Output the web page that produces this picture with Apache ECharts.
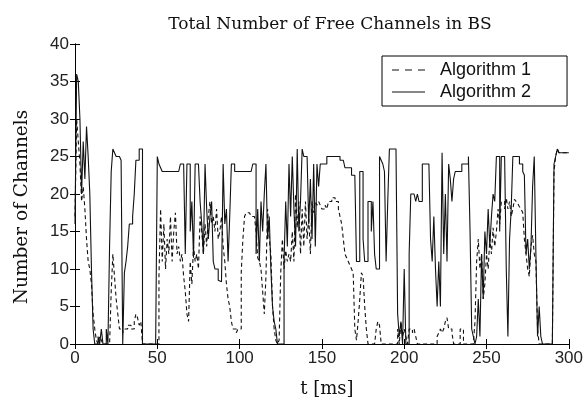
<!DOCTYPE html>
<html><head><meta charset="utf-8">
<script src="https://cdn.jsdelivr.net/npm/echarts@6/dist/echarts.min.js"></script>
<style>html,body{margin:0;padding:0;background:#fff}#c{width:586px;height:403px}</style>
</head><body><div id="c"></div>
<script>
// time step of samples (ms)
const dt = 1;
const xTicks = [0, 50, 100, 150, 200, 250, 300];
const yTicks = [0, 5, 10, 15, 20, 25, 30, 35, 40];
const seriesNames = ['Algorithm 1', 'Algorithm 2'];

// Algorithm 1 (dashed), t = 0..300 ms
const alg1 = [
 17,30,27,24,19,21,18,14,11,10,
 8,4,2,0.5,0,1,0.5,0,0,0,
 0,0,7,12,9,6,4,2,2,1.5,
 2,2,2.5,2.5,2,2,3,4,3.5,2.5,
 3,0,0,0,0,0,0,0,0,0,
 0,9,18,11,16,10,14,12,17,11,
 15,17.5,12,13,11,12,9,7,4,3,
 11,8,13,11,12,10,17,15,12,16,
 13,17,19,16,17,15,18,14,15,17,
 13,11,8,6,5,3,2,2,1.5,2,
 2,9.6,14,17,17.5,17.5,17.5,17,17,17,
 15,11.5,11,10,7,4,9,18,14,12,
 5,2,0.5,0,0.5,9.6,14,10,12.5,11,
 12,11,15,11,20,15.5,19,12,18,13,
 19,14,17,12,19,17.5,19,18.5,19,18.5,
 18,18,18.5,18,19,19,19.5,19.5,19,19,
 18,17,16,14,12,11.5,11,10.5,10,9.5,
 2,0.5,3,6,9.5,9,5,2,0,0,
 0,0,0,2,3,2.5,0,0,0,0,
 0,0,0,0,0,0,2,0,3,1,
 2,1,0,2,2,1.5,2,1,0,0,
 0,0,0,0,0,0,0,0,0,0,
 1,1.5,2,1.5,2,3,3.5,2,2,1.5,
 0,0,0,0,2,2,0,0,0,0,
 0,0,0,3,11,14,10,12,6,8,
 12,10,14,12,15.5,13,15,18,16,19,
 19,18,19.5,18,19,17,18,19.3,19,18.7,
 18.3,18,17.5,14,12,10,9,13,14.5,12,
 11,2,0,0,0,0,0,0,0,0,
 0,23,25,26,25.5,25.5,25.5,25.5,25.5,25.5,25.5
];

// Algorithm 2 (solid), t = 0..300 ms
const alg2 = [
 16,36,35,30,20,27,22,29,25,20,
 10,2,0,0,1,0,2,0,0,2,
 0,13,23,26,25.5,25,25,25,24.5,0,
 9.5,11,13,16,16,17,20,24.5,24.5,26,
 26,0,0,0,0,0,0,0,0,0,
 25,24,23.5,23,23,23,23,23,23,23,
 23,23,23,23,24,24,24,12,24,24,
 15,19,11.5,24,24,24,19,16,12,24,
 18,14,17,19,11,10,10,8.5,8.3,8.3,
 24,16,18,11,17,24,24,23,23,23,
 23,23,23,23,23,23,23,23,24,24,
 12,18,11,19,15,20,24,14,17,10,
 5,3,2,0,0,0,0,11,19,13,
 24,17,25,18,13,26,15,19,26,25,
 25,25,16,22,14,24,13,24,21,24,
 24,24,24,25,25,25,25,25,25,25,
 25,24.5,24.5,24.5,23.5,23.5,23.5,23.5,22.5,22.5,
 22.5,11,11,23,23,14,11,11,19,19,
 15,19,12,10,10,25,24.5,24,23,11,
 19,26,26,26,26,26,4,1,3,0,
 10,0,0,12,20,20,20,19,20,19,
 19,24,24,24,24,24,14,11,17,10,
 5,11,5,25.5,12,20,11,24,22,19,
 22,23,23,23,23,24,24,24,24,25,
 15,2,1,0,1,6,1,12,6,15,
 12,18,13,17,20,19,25,25,15,25,
 25,25,10,1,14,18,25,25,25,25,
 24,24,23,22.5,12,14,10,13,21,25,
 12,1,5,1,0,0,0,0,0,0,
 0,24,25,26,25.5,25.5,25.5,25.5,25.5,25.5,25.5
];

const toPairs = arr => arr.map((v, i) => [i * dt, v]);
const sansFont = 'Liberation Sans, Arial, sans-serif';
const serifFont = 'DejaVu Serif, serif';

// legend icons: a line (solid / dashed) inside a 33x18 box
const boxPts = 'M0,0h0.01v0.01h-0.01z M32.99,17.99h0.01v0.01h-0.01z ';
const iconSolid = 'path://' + boxPts + 'M0,8.5h33v1.1h-33z';
const iconDashed = 'path://' + boxPts + 'M0,8.5h7v1.1h-7z M13,8.5h7v1.1h-7z M26,8.5h7v1.1h-7z';

const chart = echarts.init(document.getElementById('c'), null, {renderer: 'canvas'});
const xMin = xTicks[0], xMax = xTicks[xTicks.length - 1];
const yMin = yTicks[0], yMax = yTicks[yTicks.length - 1];
const tickCommon = {show: true, inside: true, length: 5, lineStyle: {color: '#000', width: 1}};
chart.setOption({
  animation: false,
  backgroundColor: '#fff',
  title: {
    text: 'Total Number of Free Channels in BS',
    left: 325, top: 11, textAlign: 'center',
    textStyle: {fontFamily: serifFont, fontSize: 17, fontWeight: 'normal', color: '#111'}
  },
  graphic: [{
    type: 'text', x: 22, y: 207, rotation: Math.PI / 2,
    style: {text: 'Number of Channels', font: '18.5px "DejaVu Serif", serif', fill: '#111',
            textAlign: 'center', textVerticalAlign: 'middle'}
  }],
  grid: {left: 75, right: 13, top: 44, bottom: 57, containLabel: false},
  legend: {
    orient: 'vertical', left: 382, top: 56,
    padding: [5, 36, 5, 10], itemGap: 4, itemWidth: 33, itemHeight: 18,
    borderColor: '#000', borderWidth: 1, backgroundColor: '#fff',
    textStyle: {fontFamily: sansFont, fontSize: 18, color: '#111', padding: [0, 0, 0, 10]},
    data: [{name: seriesNames[0], icon: iconDashed}, {name: seriesNames[1], icon: iconSolid}]
  },
  xAxis: [{
    type: 'value', min: xMin, max: xMax, interval: 50, position: 'bottom',
    name: 't [ms]', nameLocation: 'middle', nameGap: 36,
    nameTextStyle: {fontFamily: serifFont, fontSize: 18, color: '#111', padding: [0, 0, 0, 10]},
    axisLine: {show: true, lineStyle: {color: '#000'}},
    axisTick: tickCommon,
    axisLabel: {fontFamily: sansFont, fontSize: 17, color: '#222', margin: 6},
    splitLine: {show: false}
  }, {
    type: 'value', min: xMin, max: xMax, interval: 50, position: 'top',
    axisLine: {show: true, lineStyle: {color: '#000'}},
    axisTick: tickCommon, axisLabel: {show: false}, splitLine: {show: false}
  }],
  yAxis: [{
    type: 'value', min: yMin, max: yMax, interval: 5, position: 'left',
    axisLine: {show: true, lineStyle: {color: '#000'}},
    axisTick: tickCommon,
    axisLabel: {fontFamily: sansFont, fontSize: 17, color: '#222', margin: 6},
    splitLine: {show: false}
  }, {
    type: 'value', min: yMin, max: yMax, interval: 5, position: 'right',
    axisLine: {show: true, lineStyle: {color: '#000'}},
    axisTick: tickCommon, axisLabel: {show: false}, splitLine: {show: false}
  }],
  series: [{
    name: seriesNames[0], type: 'line', step: 'end', symbol: 'none',
    data: toPairs(alg1),
    lineStyle: {color: '#111', width: 1.1, type: [4, 3]},
    itemStyle: {color: '#111'}
  }, {
    name: seriesNames[1], type: 'line', step: 'end', symbol: 'none',
    data: toPairs(alg2),
    lineStyle: {color: '#111', width: 1.1, type: 'solid'},
    itemStyle: {color: '#111'}
  }]
});
</script></body></html>
